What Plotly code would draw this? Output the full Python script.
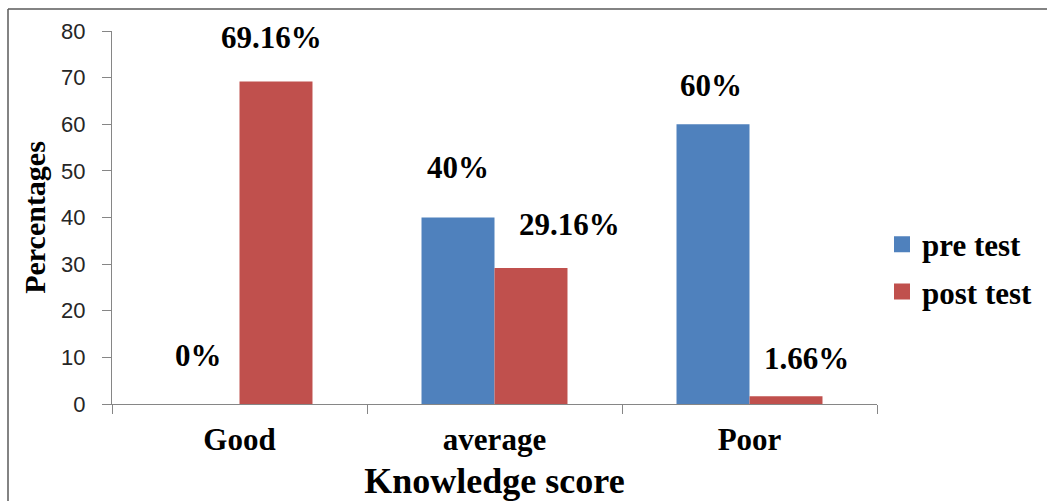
import plotly.graph_objects as go

# ---- data ----
categories = ["Good", "average", "Poor"]
pre_test = [0, 40, 60]
post_test = [69.16, 29.16, 1.66]
pre_labels = ["0%", "40%", "60%"]
post_labels = ["69.16%", "29.16%", "1.66%"]
series_names = ["pre test", "post test"]
y_ticks = [0, 10, 20, 30, 40, 50, 60, 70, 80]

# ---- style ----
BLUE = "#4F81BD"
RED = "#C0504D"
SERIF = "Liberation Serif, Times New Roman, serif"
SANS = "Liberation Sans, Arial, sans-serif"
W, H = 1047, 501
L, R, T, B = 112, 170, 31, 97
# label offsets in px (xshift, yshift) relative to top-centre of each bar group
pre_offsets = [(-41.5, 49), (-37, 50), (-39, 38.5)]
post_offsets = [(32, 44.5), (75, 43.5), (57, 38)]

fig = go.Figure()
fig.add_trace(go.Bar(x=categories, y=pre_test, name=series_names[0],
                     marker=dict(color=BLUE, line=dict(width=0)), showlegend=False))
fig.add_trace(go.Bar(x=categories, y=post_test, name=series_names[1],
                     marker=dict(color=RED, line=dict(width=0)), showlegend=False))
# legend entries with larger square swatches
for name, col in zip(series_names, [BLUE, RED]):
    fig.add_trace(go.Scatter(x=[None], y=[None], mode="markers", name=name,
                             legendgroup=name,
                             marker=dict(symbol="square", size=16, color=col)))

for cat, v, lab, (dx, dy) in zip(categories, pre_test, pre_labels, pre_offsets):
    fig.add_annotation(x=cat, y=v, text=lab, showarrow=False, xshift=dx, yshift=dy,
                       xanchor="center", yanchor="middle",
                       font=dict(family=SERIF, size=31, color="black", weight="bold"))
for cat, v, lab, (dx, dy) in zip(categories, post_test, post_labels, post_offsets):
    fig.add_annotation(x=cat, y=v, text=lab, showarrow=False, xshift=dx, yshift=dy,
                       xanchor="center", yanchor="middle",
                       font=dict(family=SERIF, size=31, color="black", weight="bold"))

pw = W - L - R
ph = H - T - B
# outer frame (left and top edges visible)
fig.add_shape(type="line", xref="paper", yref="paper",
              x0=(8 - L) / pw, x1=(8 - L) / pw, y0=(H - B - 9) / ph, y1=(H - B - 520) / ph,
              line=dict(color="#5a5a5a", width=1.5))
fig.add_shape(type="line", xref="paper", yref="paper",
              x0=(8 - L) / pw, x1=(1060 - L) / pw, y0=(H - B - 9) / ph, y1=(H - B - 9) / ph,
              line=dict(color="#5a5a5a", width=1.5))

fig.update_layout(
    width=W, height=H,
    margin=dict(l=L, r=R, t=T, b=B, pad=0, autoexpand=False),
    paper_bgcolor="white", plot_bgcolor="white",
    barmode="group", bargap=0.4275, bargroupgap=0,
    legend=dict(x=(882 - L) / pw, y=(H - B - 268) / ph, xanchor="left", yanchor="middle",
                font=dict(family=SERIF, size=31, color="black", weight="bold"),
                itemwidth=30, tracegroupgap=4, bgcolor="rgba(0,0,0,0)"),
    xaxis=dict(
        showline=True, linecolor="#868686", linewidth=1, automargin=False,
        ticks="outside", tickson="boundaries", ticklen=9, tickcolor="#868686",
        tickfont=dict(family=SERIF, size=31, color="black", weight="bold"),
        ticklabelstandoff=8,
        title=dict(text="Knowledge score", standoff=14,
                   font=dict(family=SERIF, size=36, color="black", weight="bold")),
        showgrid=False, fixedrange=True,
    ),
    yaxis=dict(
        range=[0, 80], tickvals=y_ticks, showline=True, linecolor="#868686", linewidth=1,
        automargin=False,
        ticks="outside", ticklen=9, tickcolor="#868686",
        tickfont=dict(family=SANS, size=22, color="#262626"),
        ticklabelstandoff=12,
        title=dict(text="Percentages", standoff=6,
                   font=dict(family=SERIF, size=30, color="black", weight="bold")),
        showgrid=False, zeroline=False, fixedrange=True,
    ),
)

fig.write_html("out.html")
